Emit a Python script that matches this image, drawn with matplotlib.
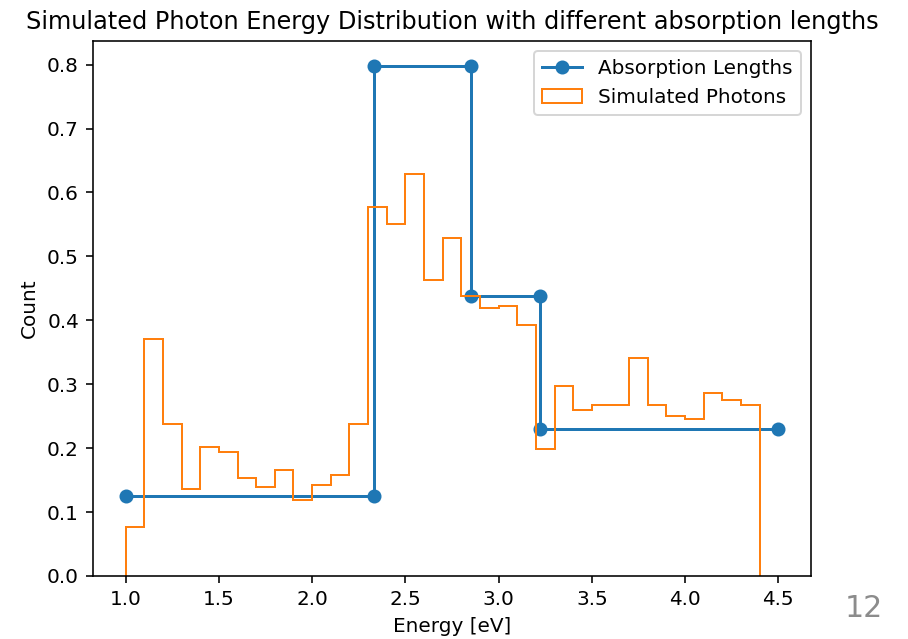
import numpy as np
import matplotlib
matplotlib.use('Agg')
import matplotlib.pyplot as plt

# absorption length steps
abs_energy = [1.0, 2.33, 2.33, 2.85, 2.85, 3.22, 3.22, 4.5]
abs_value = [0.125, 0.125, 0.797, 0.797, 0.438, 0.438, 0.23, 0.23]

# simulated photon histogram (normalised counts per 0.1 eV bin)
bin_edges = np.round(np.arange(1.0, 4.45, 0.1), 2)
photon_counts = [0.077, 0.371, 0.238, 0.136, 0.202, 0.194, 0.153, 0.139, 0.166, 0.119,
                 0.142, 0.158, 0.238, 0.577, 0.551, 0.629, 0.463, 0.529, 0.438, 0.419,
                 0.422, 0.393, 0.199, 0.297, 0.260, 0.268, 0.268, 0.341, 0.268, 0.250,
                 0.246, 0.286, 0.275, 0.268]

fig = plt.figure(figsize=(908 / 144, 639 / 144), dpi=144)
ax = fig.add_axes([0.1024, 0.0986, 0.7907, 0.8372])

ax.plot(abs_energy, abs_value, 'o-', label='Absorption Lengths')
centers = (bin_edges[:-1] + bin_edges[1:]) / 2
ax.hist(centers, bins=bin_edges, weights=photon_counts, histtype='step',
        label='Simulated Photons')

ax.set_title('Simulated Photon Energy Distribution with different absorption lengths')
ax.set_xlabel('Energy [eV]')
ax.set_ylabel('Count')
ax.legend(loc='upper right')

# slide number from the screenshot
fig.text(0.972, 0.025, '12', color='#8c8c8c', fontsize=15, ha='right', va='bottom')

fig.savefig('out.png', dpi=144)
